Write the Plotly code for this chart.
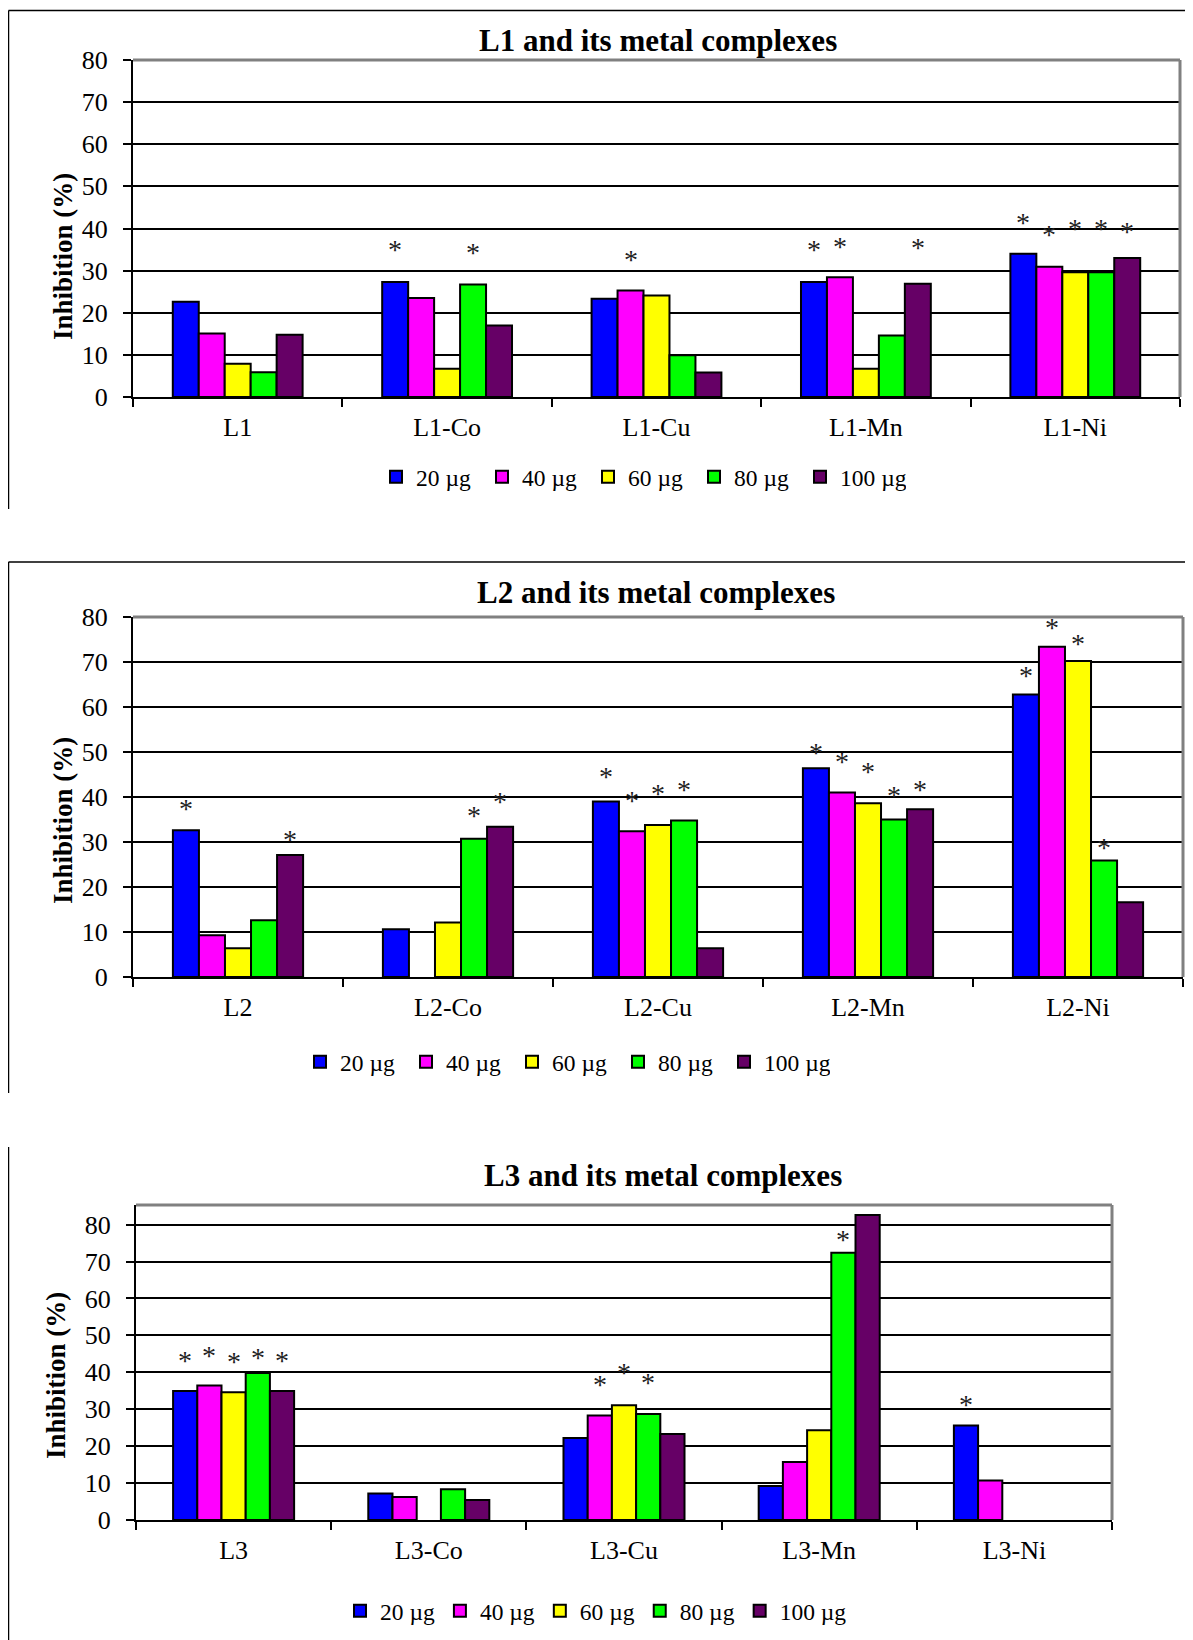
import plotly.graph_objects as go

# ---------------- data ----------------
series_labels = ["20 µg", "40 µg", "60 µg", "80 µg", "100 µg"]
series_colors = ["#0000FF", "#FF00FF", "#FFFF00", "#00FF00", "#660066"]

cats_L1 = ["L1", "L1-Co", "L1-Cu", "L1-Mn", "L1-Ni"]
cats_L2 = ["L2", "L2-Co", "L2-Cu", "L2-Mn", "L2-Ni"]
cats_L3 = ["L3", "L3-Co", "L3-Cu", "L3-Mn", "L3-Ni"]

# inhibition (%) per dose
L1_20 = [22.6, 27.3, 23.3, 27.3, 34.0]
L1_40 = [15.1, 23.5, 25.3, 28.4, 30.9]
L1_60 = [7.9, 6.7, 24.1, 6.7, 29.6]
L1_80 = [5.9, 26.7, 9.9, 14.6, 29.6]
L1_100 = [14.8, 17.0, 5.8, 26.9, 33.0]

L2_20 = [32.6, 10.6, 39.0, 46.4, 62.8]
L2_40 = [9.3, None, 32.4, 41.0, 73.4]
L2_60 = [6.4, 12.1, 33.8, 38.6, 70.2]
L2_80 = [12.6, 30.7, 34.8, 35.0, 25.9]
L2_100 = [27.1, 33.4, 6.4, 37.3, 16.6]

L3_20 = [34.9, 7.2, 22.2, 9.2, 25.6]
L3_40 = [36.4, 6.2, 28.3, 15.7, 10.7]
L3_60 = [34.6, None, 31.1, 24.3, None]
L3_80 = [39.8, 8.3, 28.7, 72.4, None]
L3_100 = [34.9, 5.4, 23.3, 82.6, None]

# level (in %) at which the significance asterisk is shown, None = no asterisk
L1_20_sig = [None, 36.2, None, 36.2, 42.5]
L1_40_sig = [None, None, 33.8, 37.0, 39.7]
L1_60_sig = [None, None, None, None, 41.2]
L1_80_sig = [None, 35.4, None, None, 41.2]
L1_100_sig = [None, None, None, 36.6, 40.5]

L2_20_sig = [38.6, None, 45.6, 50.9, 68.2]
L2_40_sig = [None, None, 40.4, 48.9, 78.7]
L2_60_sig = [None, None, 41.8, 46.7, 75.3]
L2_80_sig = [None, 37.1, 42.7, 41.4, 29.9]
L2_100_sig = [31.6, 40.2, None, 42.7, None]

L3_20_sig = [44.5, None, None, None, 32.6]
L3_40_sig = [46.0, None, 38.0, None, None]
L3_60_sig = [44.2, None, 41.2, None, None]
L3_80_sig = [45.4, None, 38.5, 77.4, None]
L3_100_sig = [44.5, None, None, None, None]

panel_titles = ["L1 and its metal complexes", "L2 and its metal complexes",
                "L3 and its metal complexes"]
y_title = "Inhibition (%)"
y_ticks = [0, 10, 20, 30, 40, 50, 60, 70, 80]

panel_data = [
    (cats_L1, [L1_20, L1_40, L1_60, L1_80, L1_100],
     [L1_20_sig, L1_40_sig, L1_60_sig, L1_80_sig, L1_100_sig]),
    (cats_L2, [L2_20, L2_40, L2_60, L2_80, L2_100],
     [L2_20_sig, L2_40_sig, L2_60_sig, L2_80_sig, L2_100_sig]),
    (cats_L3, [L3_20, L3_40, L3_60, L3_80, L3_100],
     [L3_20_sig, L3_40_sig, L3_60_sig, L3_80_sig, L3_100_sig]),
]

# ---------------- layout geometry (page pixels) ----------------
PAGE_OFF = 8          # default body margin of the html page
W, H = 1193 - PAGE_OFF, 1640 - PAGE_OFF
FONT = "Liberation Serif, Times New Roman, serif"
BARGAP = 0.38


def fx(p):
    return (p - PAGE_OFF) / W


def fy(p):
    return 1 - (p - PAGE_OFF) / H


panels = [
    dict(x0=133, x1=1180, ytop=60, ybot=397, ymax=80, title=(658, 40),
         ytitle=(63, 257), legend=(376, 477), entry=61),
    dict(x0=133, x1=1183, ytop=617, ybot=977, ymax=80, title=(656, 592),
         ytitle=(63, 821), legend=(300, 1062), entry=61),
    dict(x0=136, x1=1112, ytop=1205, ybot=1520, ymax=85.3, title=(663, 1175),
         ytitle=(56, 1376), legend=(340, 1611), entry=0),
]

fig = go.Figure()
annotations = []
shapes = []
layout_axes = {}
legends = {}

n_series = len(series_labels)
bar_w = (1 - BARGAP) / n_series

for k, (cats, vals, sigs) in enumerate(panel_data):
    P = panels[k]
    sfx = "" if k == 0 else str(k + 1)
    xa, ya = "x" + sfx, "y" + sfx
    leg = "legend" + sfx
    for i in range(n_series):
        fig.add_trace(go.Bar(
            x=cats, y=vals[i], name=series_labels[i],
            marker=dict(color=series_colors[i], line=dict(color="black", width=2)),
            xaxis=xa, yaxis=ya, legend=leg, showlegend=True,
        ))
        for j, s in enumerate(sigs[i]):
            if s is None:
                continue
            annotations.append(dict(
                x=j - (1 - BARGAP) / 2 + bar_w * (i + 0.5), y=s,
                xref=xa, yref=ya, text="*", showarrow=False,
                font=dict(family=FONT, size=28, color="#222222"),
                yanchor="middle", xanchor="center", yshift=-5,
            ))

    layout_axes["xaxis" + sfx] = dict(
        domain=[fx(P["x0"]), fx(P["x1"])], anchor=ya, type="category",
        range=[-0.5, len(cats) - 0.5], automargin=False,
        tickson="boundaries", ticks="outside", ticklen=8, tickwidth=1.5,
        tickcolor="black", showline=True, linecolor="black", linewidth=2,
        showgrid=False, zeroline=False, ticklabelstandoff=6,
        tickfont=dict(family=FONT, size=26, color="black"),
        categoryorder="array", categoryarray=cats,
    )
    layout_axes["yaxis" + sfx] = dict(
        domain=[fy(P["ybot"]), fy(P["ytop"])], anchor=xa, automargin=False,
        range=[0, P["ymax"]], tickvals=y_ticks, ticks="outside", ticklen=8,
        tickwidth=1.5, tickcolor="black", showline=True, linecolor="black",
        linewidth=2, showgrid=True, gridcolor="black", gridwidth=1.5,
        zeroline=False, ticklabelstandoff=10,
        tickfont=dict(family=FONT, size=26, color="black"),
    )
    # plot-area border (grey, Excel style): top and right edges
    shapes.append(dict(type="line", xref=xa + " domain", yref=ya + " domain",
                       x0=0, x1=1, y0=1, y1=1, layer="above",
                       line=dict(color="#808080", width=3)))
    shapes.append(dict(type="line", xref=xa + " domain", yref=ya + " domain",
                       x0=1, x1=1, y0=0, y1=1, layer="above",
                       line=dict(color="#808080", width=3)))
    # titles
    annotations.append(dict(
        x=fx(P["title"][0]), y=fy(P["title"][1]), xref="paper", yref="paper",
        text="<b>" + panel_titles[k] + "</b>", showarrow=False,
        font=dict(family=FONT, size=31, color="black"),
        xanchor="center", yanchor="middle"))
    annotations.append(dict(
        x=fx(P["ytitle"][0]), y=fy(P["ytitle"][1]), xref="paper", yref="paper",
        text="<b>" + y_title + "</b>", showarrow=False, textangle=-90,
        font=dict(family=FONT, size=27, color="black"),
        xanchor="center", yanchor="middle"))
    legends[leg] = dict(
        orientation="h", x=fx(P["legend"][0]), y=fy(P["legend"][1]),
        xanchor="left", yanchor="middle", entrywidth=P["entry"],
        entrywidthmode="pixels", bgcolor="rgba(0,0,0,0)", borderwidth=0,
        font=dict(family=FONT, size=23.5, color="black"), traceorder="normal",
    )

# panel frame lines (chart-area borders visible in the figure)
frame_lines = [
    (8.5, 10.5, 1193, 10.5), (8.5, 10.5, 8.5, 509),
    (8.5, 562, 1193, 562), (8.5, 562, 8.5, 1093),
    (8.5, 1147, 8.5, 1640),
]
for (a, b, c, d) in frame_lines:
    shapes.append(dict(type="line", xref="paper", yref="paper",
                       x0=fx(a), y0=fy(b), x1=fx(c), y1=fy(d),
                       line=dict(color="black", width=1.5)))

fig.update_layout(
    template="none",
    width=W, height=H, margin=dict(l=0, r=0, t=0, b=0, pad=0, autoexpand=False),
    paper_bgcolor="white", plot_bgcolor="white",
    barmode="group", bargap=BARGAP, bargroupgap=0,
    annotations=annotations, shapes=shapes,
    **layout_axes, **legends,
)

fig.write_html("out.html")
